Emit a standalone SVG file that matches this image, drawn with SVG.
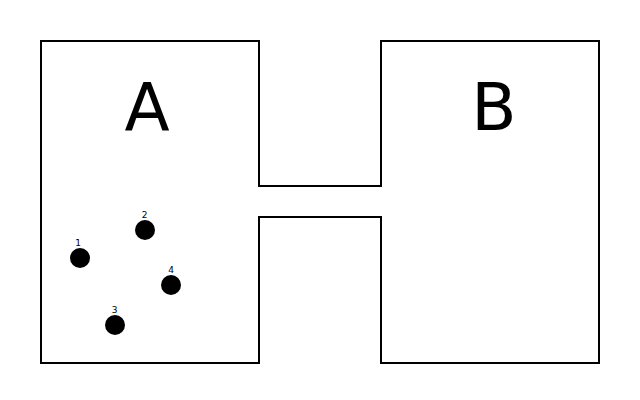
<svg xmlns="http://www.w3.org/2000/svg" width="640" height="400" viewBox="0 0 640 400">
<style>
.wall{fill:none;stroke:#000;stroke-width:2;stroke-linejoin:miter}
.big{font-family:"DejaVu Sans",sans-serif;font-size:66px;text-anchor:middle;fill:#000}
.lbl{font-family:"DejaVu Sans",sans-serif;font-size:9px;text-anchor:middle;fill:#000}
.dot{fill:#000}
</style>
<rect width="640" height="400" fill="#fff"/>
<path class="wall" d="M41,41 H259 V186 H381 V41 H599 V363 H381 V217 H259 V363 H41 Z"/>
<text class="big" x="147" y="130">A</text>
<text class="big" x="494" y="130">B</text>
<g id="p1"><circle class="dot" cx="80" cy="258" r="10"/><text class="lbl" x="78" y="246">1</text></g>
<g id="p2"><circle class="dot" cx="145" cy="230" r="10"/><text class="lbl" x="144.5" y="218">2</text></g>
<g id="p3"><circle class="dot" cx="115" cy="325" r="10"/><text class="lbl" x="114.5" y="313">3</text></g>
<g id="p4"><circle class="dot" cx="171" cy="285" r="10"/><text class="lbl" x="171" y="273">4</text></g>
</svg>
